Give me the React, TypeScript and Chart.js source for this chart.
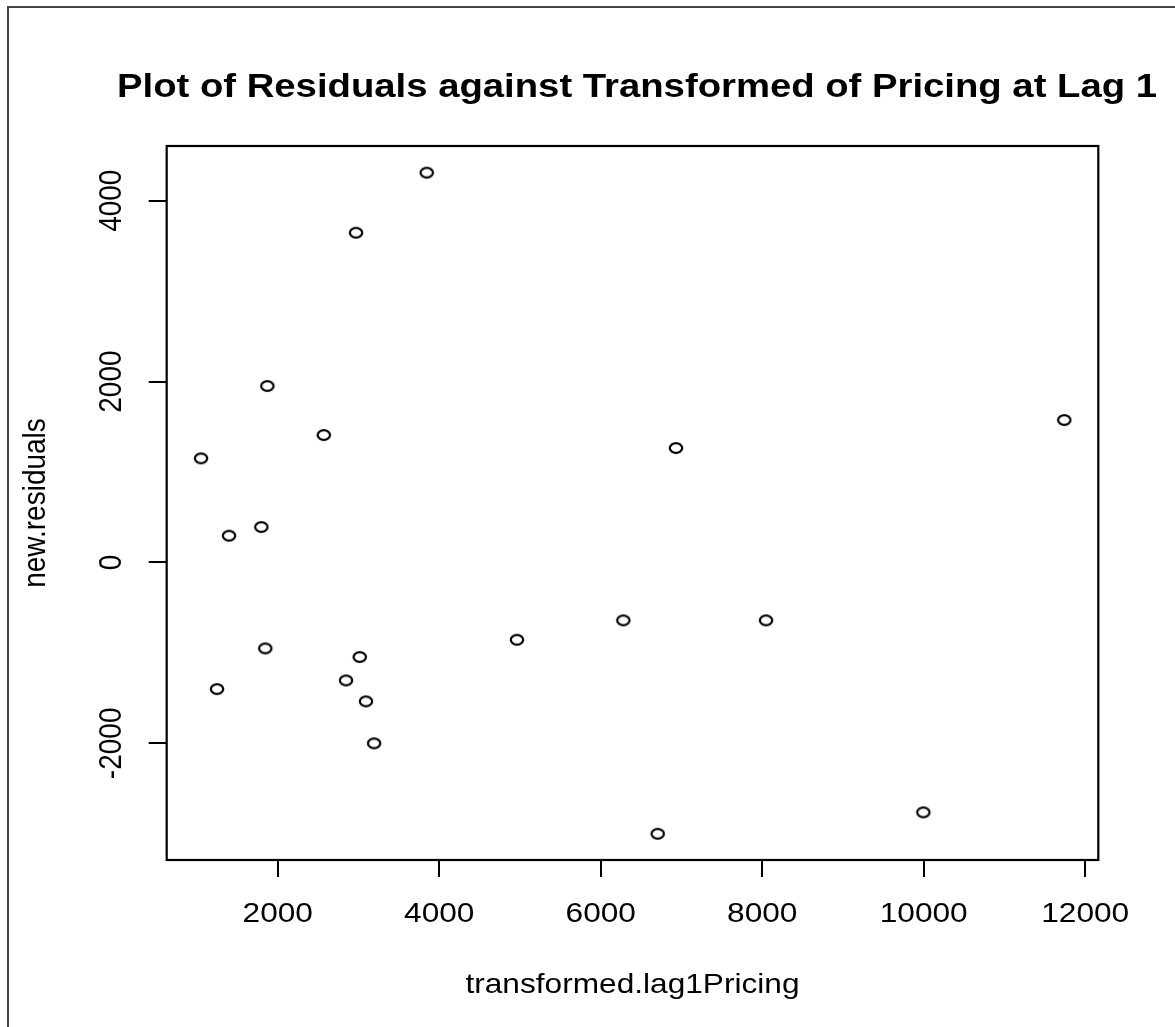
import React, { useEffect, useRef } from "react";
import { Chart, registerables } from "chart.js";

Chart.register(...registerables);

// ---- data ----
const titleText = "Plot of Residuals against Transformed of Pricing at Lag 1";
const xTitle = "transformed.lag1Pricing";
const yTitle = "new.residuals";

const xValues = [3845, 2970, 1871, 2570, 1050, 1797, 1397, 6932, 11741, 4963, 6280, 8047, 1846, 3015, 2846, 1248, 3093, 3193, 6706, 9995];
const yValues = [4310, 3646, 1951, 1409, 1151, 392, 296, 1265, 1575, -855, -640, -640, -950, -1046, -1304, -1400, -1536, -2000, -3000, -2763];

const xTicks = [2000, 4000, 6000, 8000, 10000, 12000];
const yTicks = [-2000, 0, 2000, 4000];
const xLimits = [625, 12162];
const yLimits = [-3290, 4605];

// ---- styling ----
const W = 1175;
const H = 1027;
const STRETCH = 1.13;
const FONT = '"Liberation Sans", Arial, Helvetica, sans-serif';

function makeMarker(): HTMLCanvasElement {
  const c = document.createElement("canvas");
  c.width = 20;
  c.height = 16;
  const g = c.getContext("2d")!;
  g.strokeStyle = "#000";
  g.lineWidth = 2.2;
  g.beginPath();
  g.ellipse(10, 8, 6.2, 4.8, 0, 0, Math.PI * 2);
  g.stroke();
  return c;
}

const rPlotPlugin = {
  id: "rPlot",
  afterDraw(chart: any) {
    const ctx: CanvasRenderingContext2D = chart.ctx;
    const a = chart.chartArea;
    const xs = chart.scales.x;
    const ys = chart.scales.y;
    ctx.save();

    // outer frame (left and top)
    ctx.strokeStyle = "#444";
    ctx.lineWidth = 2;
    ctx.beginPath();
    ctx.moveTo(8, H);
    ctx.lineTo(8, 7);
    ctx.lineTo(W, 7);
    ctx.stroke();

    // plot box
    ctx.strokeStyle = "#000";
    ctx.lineWidth = 2.2;
    ctx.strokeRect(a.left, a.top, a.right - a.left, a.bottom - a.top);

    // ticks
    ctx.lineWidth = 2;
    ctx.beginPath();
    xTicks.forEach((v) => {
      const px = Math.round(xs.getPixelForValue(v));
      ctx.moveTo(px, a.bottom);
      ctx.lineTo(px, a.bottom + 17);
    });
    yTicks.forEach((v) => {
      const py = Math.round(ys.getPixelForValue(v));
      ctx.moveTo(a.left, py);
      ctx.lineTo(a.left - 18, py);
    });
    ctx.stroke();

    const txt = (s: string, x: number, y: number, font: string, rot = 0, stretch = STRETCH) => {
      ctx.save();
      ctx.translate(x, y);
      ctx.scale(stretch, 1);
      ctx.rotate(rot);
      ctx.font = font;
      ctx.fillStyle = "#000";
      ctx.textAlign = "center";
      ctx.textBaseline = "middle";
      ctx.fillText(s, 0, 0);
      ctx.restore();
    };

    const tickFont = `28px ${FONT}`;
    xTicks.forEach((v) => {
      txt(String(v), xs.getPixelForValue(v), 914, tickFont);
    });
    yTicks.forEach((v) => {
      txt(String(v), 112, ys.getPixelForValue(v), tickFont, -Math.PI / 2);
    });

    // axis titles
    txt(xTitle, (a.left + a.right) / 2, 985, tickFont);
    txt(yTitle, 36, (a.top + a.bottom) / 2, tickFont, -Math.PI / 2);

    // main title
    const titleFont = `bold 33px ${FONT}`;
    ctx.font = titleFont;
    const tw = ctx.measureText(titleText).width;
    const targetW = 1040;
    txt(titleText, 637, 88, titleFont, 0, targetW / tw);

    ctx.restore();
  },
};

export default function App() {
  const ref = useRef<HTMLCanvasElement | null>(null);

  useEffect(() => {
    const canvas = ref.current;
    if (!canvas) return;
    const marker = makeMarker();
    const chart = new Chart(canvas, {
      type: "scatter",
      data: {
        datasets: [
          {
            data: xValues.map((x, i) => ({ x, y: yValues[i] })),
            pointStyle: marker as any,
            pointRadius: 7,
            borderColor: "#000",
            backgroundColor: "rgba(0,0,0,0)",
          },
        ],
      },
      options: {
        responsive: false,
        animation: false,
        devicePixelRatio: 1,
        layout: { padding: { left: 166.7, top: 146, right: 76.7, bottom: 167 } },
        scales: {
          x: { type: "linear", display: false, min: xLimits[0], max: xLimits[1] },
          y: { type: "linear", display: false, min: yLimits[0], max: yLimits[1] },
        },
        plugins: {
          legend: { display: false },
          tooltip: { enabled: false },
          title: { display: false },
        },
      },
      plugins: [rPlotPlugin],
    });
    return () => chart.destroy();
  }, []);

  return (
    <div style={{ position: "absolute", left: 0, top: 0, width: W, height: H, background: "#fff" }}>
      <canvas ref={ref} width={W} height={H} style={{ display: "block", width: W, height: H }} />
    </div>
  );
}
